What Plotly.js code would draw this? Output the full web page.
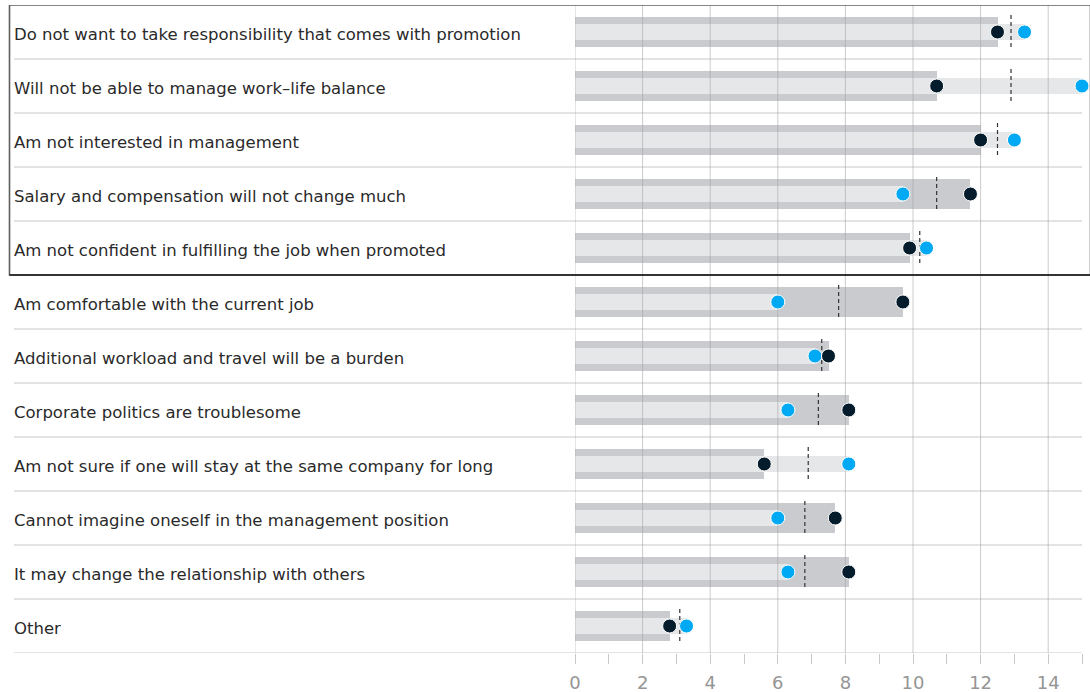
<!DOCTYPE html>
<html>
<head>
<meta charset="utf-8">
<script src="https://cdn.plot.ly/plotly-3.0.1.min.js"></script>
<style>
  html, body { margin: 0; padding: 0; background: #ffffff; }
  #chart { width: 1090px; height: 692px; }
</style>
</head>
<body>
<div id="chart"></div>
<script>
// ---- Data ----
const categories = [
  "Do not want to take responsibility that comes with promotion",
  "Will not be able to manage work\u2013life balance",
  "Am not interested in management",
  "Salary and compensation will not change much",
  "Am not confident in fulfilling the job when promoted",
  "Am comfortable with the current job",
  "Additional workload and travel will be a burden",
  "Corporate politics are troublesome",
  "Am not sure if one will stay at the same company for long",
  "Cannot imagine oneself in the management position",
  "It may change the relationship with others",
  "Other"
];
const darkSeries = [12.5, 10.7, 12.0, 11.7, 9.9, 9.7, 7.5, 8.1, 5.6, 7.7, 8.1, 2.8];
const blueSeries = [13.3, 15.0, 13.0, 9.7, 10.4, 6.0, 7.1, 6.3, 8.1, 6.0, 6.3, 3.3];
const averageValues = [12.9, 12.9, 12.5, 10.7, 10.2, 7.8, 7.3, 7.2, 6.9, 6.8, 6.8, 3.1];
const xTickValues = [0, 2, 4, 6, 8, 10, 12, 14];
const boxedRowCount = 5;

// ---- Styling ----
const FONT = "DejaVu Sans, Liberation Sans, Arial, sans-serif";
const DARK_DOT = "#051c2c";
const BLUE_DOT = "#00a9f4";
const DARK_BAR = "#c9cbcf";
const LIGHT_BAR = "#e6e7e8";
const SEP = "#c8c8c8";

const W = 1090, H = 692;
const margin = { l: 575, r: 8, t: 5, b: 39 };
const plotW = W - margin.l - margin.r;
const px2paper = (px) => (px - margin.l) / plotW;

const idx = categories.map((_, i) => i);
const n = categories.length;

// bars
const darkBars = {
  type: "bar", orientation: "h", x: darkSeries, y: idx, width: 0.54,
  marker: { color: DARK_BAR, line: { width: 0 } }, hoverinfo: "skip", showlegend: false
};
const lightBars = {
  type: "bar", orientation: "h", x: blueSeries, y: idx, width: 0.28,
  marker: { color: LIGHT_BAR, line: { width: 0 } }, hoverinfo: "skip", showlegend: false
};

// vertical grid lines drawn above the bars (but below the dots)
const gx = [], gy = [];
xTickValues.forEach(t => { gx.push(t, t, null); gy.push(-0.5, n - 0.5, null); });
const gridTrace = {
  type: "scatter", mode: "lines", x: gx, y: gy,
  line: { color: "rgba(160,160,160,0.55)", width: 1 }, hoverinfo: "skip", showlegend: false
};

// dashed average markers
const ax = [], ay = [];
averageValues.forEach((v, i) => { ax.push(v, v, null); ay.push(i - 0.315, i + 0.315, null); });
const avgTrace = {
  type: "scatter", mode: "lines", x: ax, y: ay,
  line: { color: "#333333", width: 1.2, dash: "4px,3px" }, hoverinfo: "skip", showlegend: false
};

// dots: in each row the right-most dot is drawn last (on top)
const dx = [], dy = [], dc = [];
idx.forEach(i => {
  const pts = [[darkSeries[i], DARK_DOT], [blueSeries[i], BLUE_DOT]].sort((a, b) => a[0] - b[0]);
  pts.forEach(p => { dx.push(p[0]); dy.push(i); dc.push(p[1]); });
});
const dotTrace = {
  type: "scatter", mode: "markers", x: dx, y: dy, cliponaxis: false,
  marker: { size: 14, color: dc, line: { color: "#ffffff", width: 1 } },
  hoverinfo: "skip", showlegend: false
};

// row separators and box
const shapes = [];
for (let b = 1; b <= n; b++) {
  shapes.push({
    type: "line", xref: "paper", yref: "y", layer: "below",
    x0: px2paper(14), x1: 1, y0: b - 0.5, y1: b - 0.5,
    line: { color: SEP, width: 1 }
  });
}
shapes.push({
  type: "rect", xref: "paper", yref: "y", layer: "above",
  x0: px2paper(9.5), x1: px2paper(1090.5), y0: -0.5, y1: boxedRowCount - 0.5,
  line: { color: "#5f5f5f", width: 1.6 }, fillcolor: "rgba(0,0,0,0)"
});
shapes.push({
  type: "line", xref: "paper", yref: "y", layer: "above",
  x0: px2paper(9.5), x1: px2paper(1090.5), y0: boxedRowCount - 0.5, y1: boxedRowCount - 0.5,
  line: { color: "#1a1a1a", width: 1.6 }
});

const annotations = categories.map((c, i) => ({
  xref: "paper", yref: "y", x: px2paper(12), y: i + 0.04, xanchor: "left", yanchor: "middle",
  text: c, showarrow: false, font: { family: FONT, size: 16.5, color: "#2a2a2a" }
}));

const layout = {
  width: W, height: H, margin: margin,
  paper_bgcolor: "#ffffff", plot_bgcolor: "#ffffff",
  barmode: "overlay", bargap: 0, showlegend: false,
  xaxis: {
    range: [0, 15], tickmode: "array", tickvals: xTickValues,
    showgrid: false, zeroline: false, showline: false,
    ticks: "outside", ticklen: 10, tickcolor: "#c8c8c8", tickwidth: 1,
    ticklabelstandoff: 3,
    minor: { tickmode: "linear", tick0: 0, dtick: 1, ticks: "outside", ticklen: 10, tickcolor: "#c8c8c8", tickwidth: 1, showgrid: false },
    tickfont: { family: FONT, size: 18, color: "#959595" },
    fixedrange: true
  },
  yaxis: {
    range: [n - 0.5, -0.5], showticklabels: false, showgrid: false, zeroline: false,
    showline: false, ticks: "", fixedrange: true
  },
  shapes: shapes,
  annotations: annotations
};

Plotly.newPlot("chart", [darkBars, lightBars, gridTrace, avgTrace, dotTrace], layout,
  { displayModeBar: false, staticPlot: true });
</script>
</body>
</html>
